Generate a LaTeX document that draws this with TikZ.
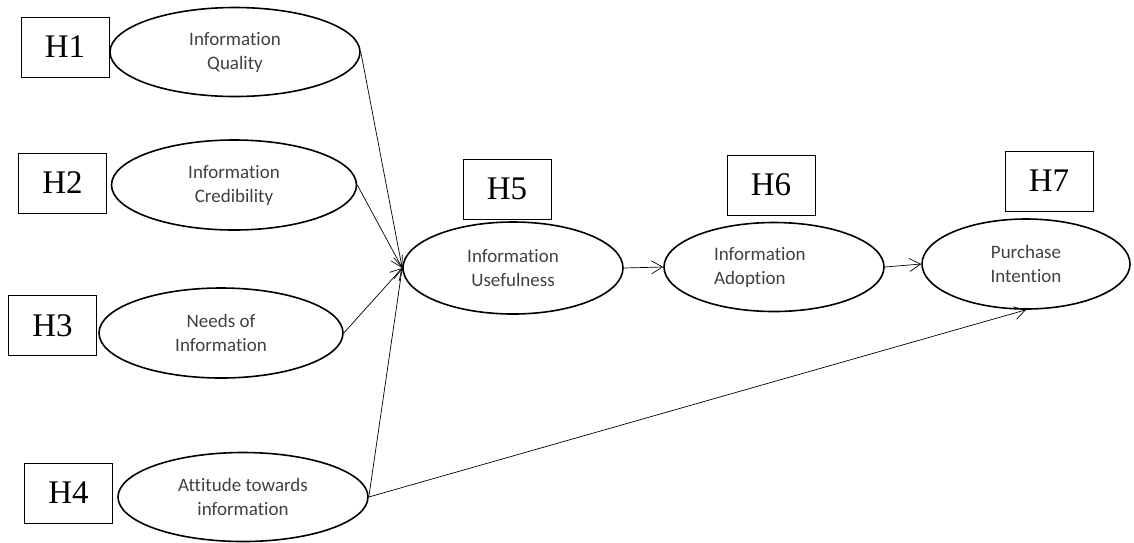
\documentclass[tikz,border=0pt]{standalone}
\usepackage{fontspec}
\setmainfont{Liberation Serif}
\newfontfamily\calfont[Ligatures=NoCommon]{Carlito}
\usetikzlibrary{shapes,arrows.meta}

\begin{document}
\begin{tikzpicture}[x=1pt,y=-1pt,
      var/.style={draw,ellipse,line width=1.6pt,inner sep=0pt,minimum width=250pt,
        minimum height=89pt,align=center,text=black!75,
        font=\calfont\fontsize{19}{24}\selectfont},
      hyp/.style={draw,rectangle,line width=0.9pt,minimum width=88pt,minimum height=60pt,
        inner sep=0pt,font=\fontsize{33}{36}\selectfont},
      link/.style={-{Straight Barb[length=11pt,width=13pt]},line width=0.7pt}]
    \useasboundingbox (0,0) rectangle (1134,542);

    % predictors
    \node[var](q) at (235,52) {Information\\Quality};
    \node[var,minimum width=245pt,minimum height=90pt](c) at (234,185) {Information\\Credibility};
    \node[var,minimum width=244pt,minimum height=90pt](n) at (221,333) {Needs of\\Information};
    \node[var](a) at (243,497) {Attitude towards\\information};

    % mediators and outcome
    \node[var,minimum width=220pt,minimum height=92pt](u) at (513,268) {Information\\Usefulness};
    \node[var,minimum width=220pt,align=left,inner xsep=0pt,text width=120pt](ad) at (774,267) {Information\\Adoption};
    \node[var,minimum width=208pt,minimum height=90pt](p) at (1026,264) {Purchase\\Intention};

    % hypotheses
    \node[hyp,left of=q,node distance=170pt,yshift=5pt](h1){H1};
    \node[hyp,left of=c,node distance=171.5pt,yshift=2pt](h2){H2};
    \node[hyp,left of=n,node distance=168.5pt,yshift=7.5pt](h3){H3};
    \node[hyp,left of=a,node distance=174.5pt,yshift=4pt](h4){H4};
    \node[hyp,above of=u,node distance=79pt,xshift=-6pt](h5){H5};
    \node[hyp,above of=ad,node distance=82pt,xshift=-3pt](h6){H6};
    \node[hyp,above of=p,node distance=83pt,xshift=23pt](h7){H7};

    \draw[link] (q.east) -- (u.west);
    \draw[link] (c.east) -- (u.west);
    \draw[link] (n.east) -- (u.west);
    \draw[link] (a.east) -- (u.west);
    \draw[link] (a.east) -- (p.south);
    \draw[link] (u.east) -- (ad.west);
    \draw[link] (ad.east) -- (p.west);

\end{tikzpicture}
\end{document}
